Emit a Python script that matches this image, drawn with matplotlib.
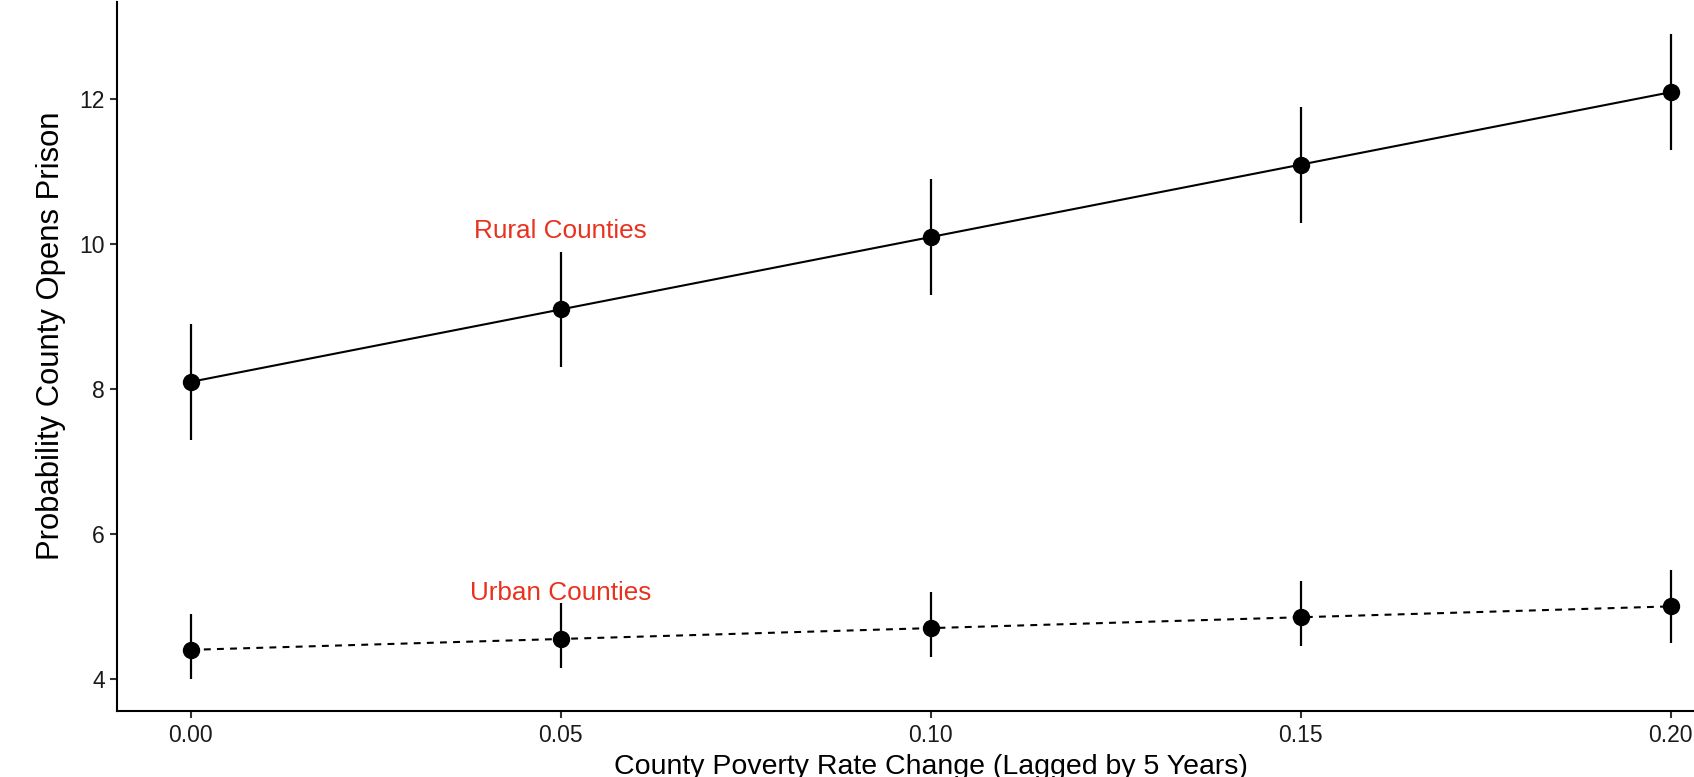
import matplotlib
matplotlib.use("Agg")
import matplotlib.pyplot as plt
import numpy as np

# poverty change values on the x axis
poverty_change = [0.00, 0.05, 0.10, 0.15, 0.20]

# predicted probability with confidence interval
rural_prob = [8.1, 9.1, 10.1, 11.1, 12.1]
rural_low = [7.3, 8.3, 9.3, 10.3, 11.3]
rural_high = [8.9, 9.9, 10.9, 11.9, 12.9]

urban_prob = [4.4, 4.55, 4.7, 4.85, 5.0]
urban_low = [4.0, 4.15, 4.3, 4.45, 4.5]
urban_high = [4.9, 5.05, 5.2, 5.35, 5.5]

x_ticks = [0.00, 0.05, 0.10, 0.15, 0.20]
y_ticks = [4, 6, 8, 10, 12]

plt.rcParams['font.family'] = ['Liberation Sans', 'DejaVu Sans']

fig = plt.figure(figsize=(16.94, 7.77), dpi=100)
ax = fig.add_axes([0.0689, 0.0849, 1.030 - 0.0689, 0.9974 - 0.0849])

def draw_series(x, y, lo, hi, ls):
    x = np.array(x)
    y = np.array(y)
    ax.plot(x, y, color='black', lw=1.5, linestyle=ls, zorder=2)
    ax.vlines(x, lo, hi, color='black', lw=1.6, zorder=2)
    ax.plot(x, y, 'o', color='black', markersize=11.5, zorder=3)

draw_series(poverty_change, rural_prob, rural_low, rural_high, '-')
draw_series(poverty_change, urban_prob, urban_low, urban_high, (0, (3.3, 3)))

red = '#e8321e'
ax.text(0.05, 10.18, 'Rural Counties', color=red, fontsize=18.8,
        ha='center', va='center')
ax.text(0.05, 5.18, 'Urban Counties', color=red, fontsize=18.8,
        ha='center', va='center')

ax.set_xlim(-0.01, 0.21)
ax.set_ylim(3.555, 13.345)
ax.set_xticks(x_ticks)
ax.set_xticklabels(['%.2f' % v for v in x_ticks])
ax.set_yticks(y_ticks)

for side in ['top', 'right']:
    ax.spines[side].set_visible(False)
for side in ['left', 'bottom']:
    ax.spines[side].set_linewidth(1.5)
ax.tick_params(axis='both', labelsize=16.5, width=1.5, length=5, color='#333333',
               labelcolor='#1a1a1a')
ax.tick_params(axis='y', pad=3.5)
ax.tick_params(axis='x', pad=4.5)

ax.set_xlabel('County Poverty Rate Change (Lagged by 5 Years)', fontsize=20.5, labelpad=5)
ax.set_ylabel('Probability County Opens Prison', fontsize=22.3)
ax.yaxis.set_label_coords(-0.031, 0.529)

fig.savefig('out.png', dpi=100)
